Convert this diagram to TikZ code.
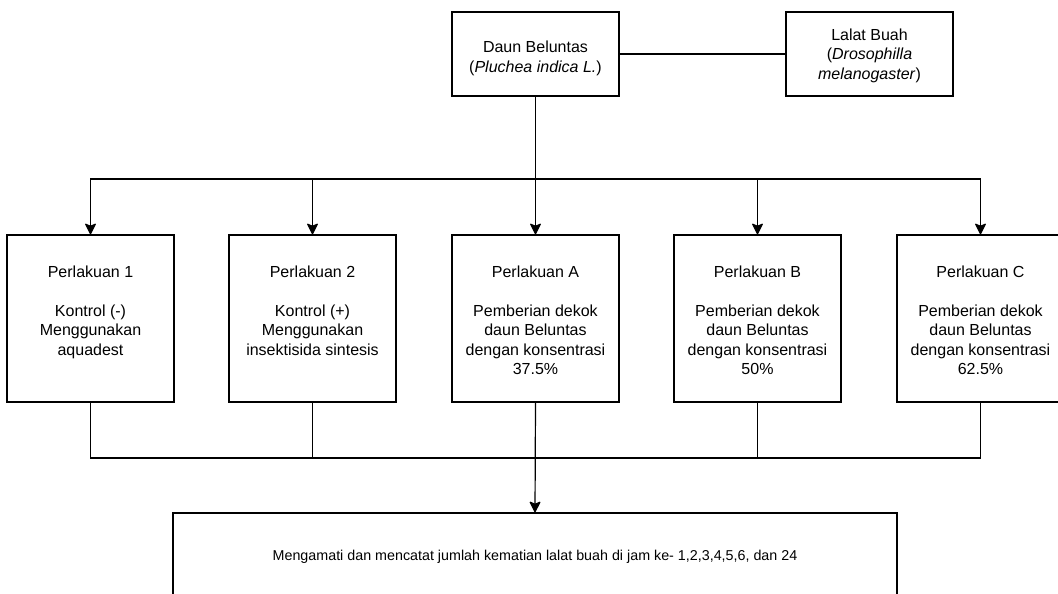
\documentclass[tikz,border=0pt]{standalone}
\usepackage{fontspec}
\setmainfont{Liberation Sans}
\usetikzlibrary{arrows.meta}
\tikzset{
  frame/.style={draw=black, line width=1.2pt, fill=none, inner sep=0pt, minimum width=167pt},
  tbox/.style={frame, minimum height=167pt},
  hbox/.style={frame, minimum height=84pt},
  txt/.style={inner sep=0pt, align=center, anchor=north, font=\fontsize{16}{19.5}\selectfont},
  line/.style={draw=black, line width=1.2pt},
  arr/.style={line, -{Stealth[length=12pt,width=12pt,inset=2.5pt,round=false]}},
}
\begin{document}
\begin{tikzpicture}[x=1pt,y=-1pt]
\useasboundingbox (0,0) rectangle (1058,594);
% top boxes
\node[hbox] (daun) at (535.5,54) {};
\node[txt] (dauntxt) at (535.5,39) {\strut Daun Beluntas\\(\textit{Pluchea indica L.})};
\node[hbox] (lalat) at (869.5,54) {};
\node[txt] (lalattxt) at (869.5,26.5) {\strut Lalat Buah\\(\textit{Drosophilla}\\\textit{melanogaster})};
% treatment boxes
\node[tbox] (p1) at (90.5,318.5) {};
\node[tbox] (p2) at (312.5,318.5) {};
\node[tbox] (pA) at (535.5,318.5) {};
\node[tbox] (pB) at (757.5,318.5) {};
\node[tbox] (pC) at (980.5,318.5) {};
\node[txt] (p1t) at (90.5,263.5) {\strut Perlakuan 1\\ \\Kontrol (-)\\Menggunakan\\aquadest};
\node[txt] (p2t) at (312.5,263.5) {\strut Perlakuan 2\\ \\Kontrol (+)\\Menggunakan\\insektisida sintesis};
\node[txt] (pAt) at (535.5,263.5) {\strut Perlakuan A\\ \\Pemberian dekok\\daun Beluntas\\dengan konsentrasi\\37.5\%};
\node[txt] (pBt) at (757.5,263.5) {\strut Perlakuan B\\ \\Pemberian dekok\\daun Beluntas\\dengan konsentrasi\\50\%};
\node[txt] (pCt) at (980.5,263.5) {\strut Perlakuan C\\ \\Pemberian dekok\\daun Beluntas\\dengan konsentrasi\\62.5\%};
% observation box
\node[frame, minimum width=724pt, minimum height=88pt, font=\fontsize{14.3}{17}\selectfont] (obs) at (535,557)
  {Mengamati dan mencatat jumlah kematian lalat buah di jam ke- 1,2,3,4,5,6, dan 24};
% connectors
\coordinate (tb) at (535.5,179);
\coordinate (bb) at (535.5,458);
\draw[line] (daun.east) -- (lalat.west);
\draw[arr] (daun.south) -- (pA.north);
\draw[arr] (tb) -| (p1.north);
\draw[arr] (tb) -| (p2.north);
\draw[arr] (tb) -| (pB.north);
\draw[arr] (tb) -| (pC.north);
\draw[line] (p1.south) |- (bb);
\draw[line] (pC.south) |- (bb);
\draw[line] (p2.south) -- (p2.south |- bb);
\draw[line] (pB.south) -- (pB.south |- bb);
\draw[arr] (pA.south) -- (obs.north);
\end{tikzpicture}
\end{document}
